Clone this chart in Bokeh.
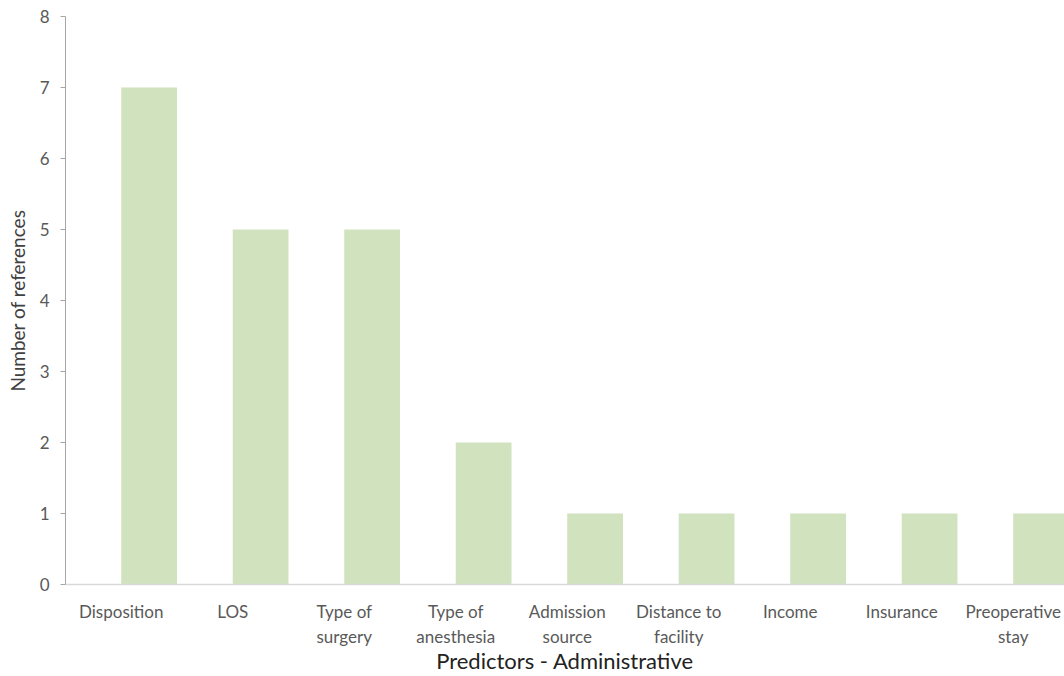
from bokeh.plotting import figure
from bokeh.models import Range1d, FixedTicker, ColumnDataSource
from bokeh.transform import dodge
from bokeh.embed import file_html
from bokeh.resources import INLINE

categories = ["Disposition", "LOS", "Type of\nsurgery", "Type of\nanesthesia",
              "Admission\nsource", "Distance to\nfacility", "Income", "Insurance",
              "Preoperative\nstay"]
counts = [7, 5, 5, 2, 1, 1, 1, 1, 1]
y_ticks = [0, 1, 2, 3, 4, 5, 6, 7, 8]
x_title = "Predictors - Administrative"
y_title = "Number of references"

positions = list(range(1, len(categories) + 1))
src = ColumnDataSource(dict(x=positions, top=counts))

p = figure(width=1064, height=676, output_backend="svg", toolbar_location=None,
           x_range=Range1d(0.5, 9.46), y_range=Range1d(0, 8),
           min_border_left=65, min_border_top=16, min_border_right=0, min_border_bottom=92)
p.vbar(x=dodge("x", 0.25, range=p.x_range), top="top", width=0.5, source=src,
       color="#d0e2be", line_color=None)

p.outline_line_color = None
p.xgrid.visible = False
p.ygrid.visible = False
p.background_fill_color = "white"
p.border_fill_color = "white"

font = "Lato"
p.xaxis.ticker = FixedTicker(ticks=positions)
p.xaxis.major_label_overrides = {pos: lab for pos, lab in zip(positions, categories)}
p.xaxis.major_tick_line_color = None
p.xaxis.minor_tick_line_color = None
p.xaxis.axis_line_color = "#d9d9d9"
p.xaxis.axis_line_width = 1.5
p.xaxis.major_label_standoff = 10
p.xaxis.major_label_text_font = font
p.xaxis.major_label_text_font_size = "17px"
p.xaxis.major_label_text_color = "#595959"
p.xaxis.axis_label = x_title
p.xaxis.axis_label_text_font = font
p.xaxis.axis_label_text_font_style = "normal"
p.xaxis.axis_label_text_font_size = "22px"
p.xaxis.axis_label_text_color = "#222222"
p.xaxis.axis_label_standoff = -3

p.yaxis.ticker = FixedTicker(ticks=y_ticks)
p.yaxis.minor_tick_line_color = None
p.yaxis.axis_line_color = "#a6a6a6"
p.yaxis.major_tick_line_color = "#a6a6a6"
p.yaxis.major_tick_out = 5
p.yaxis.major_tick_in = 0
p.yaxis.major_label_standoff = 11
p.yaxis.major_label_text_font = font
p.yaxis.major_label_text_font_size = "17px"
p.yaxis.major_label_text_color = "#595959"
p.yaxis.axis_label = y_title
p.yaxis.axis_label_text_font = font
p.yaxis.axis_label_text_font_style = "normal"
p.yaxis.axis_label_text_font_size = "19px"
p.yaxis.axis_label_text_color = "#404040"
p.yaxis.axis_label_standoff = 8

open("out.html", "w").write(file_html(p, INLINE))
